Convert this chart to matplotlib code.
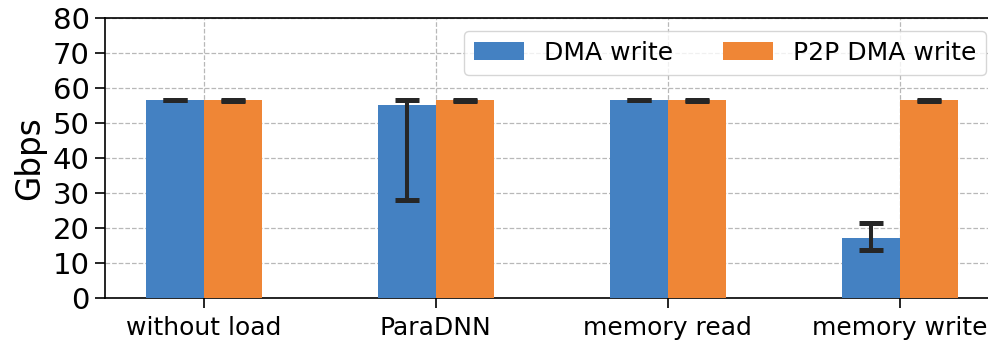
import matplotlib
matplotlib.use("Agg")
import matplotlib.pyplot as plt
import numpy as np

categories = ["without load", "ParaDNN", "memory read", "memory write"]
series_names = ["DMA write", "P2P DMA write"]

dma_write = [56.5, 55.1, 56.5, 17.2]
dma_err_low = [56.5, 28.0, 56.5, 13.7]
dma_err_high = [56.6, 56.6, 56.6, 21.5]

p2p_write = [56.5, 56.5, 56.5, 56.5]
p2p_err_low = [56.4, 56.4, 56.4, 56.4]
p2p_err_high = [56.6, 56.6, 56.6, 56.6]

yticks = [0, 10, 20, 30, 40, 50, 60, 70, 80]

colors = ["#4481c2", "#ef8636"]
err_color = "#262626"

fig = plt.figure(figsize=(9.88, 3.40), dpi=100)
ax = fig.add_axes([0.1063, 0.1235, 0.9044, 0.8235])

x = np.arange(len(categories))
width = 0.25

def yerr_from(vals, lo, hi):
    vals = np.asarray(vals)
    return np.vstack([vals - np.asarray(lo), np.asarray(hi) - vals])

ekw = dict(ecolor=err_color, elinewidth=2.9, capsize=8.6, capthick=3.6)
ax.bar(x - width / 2, dma_write, width, color=colors[0], label=series_names[0],
       yerr=yerr_from(dma_write, dma_err_low, dma_err_high), error_kw=ekw, zorder=3)
ax.bar(x + width / 2, p2p_write, width, color=colors[1], label=series_names[1],
       yerr=yerr_from(p2p_write, p2p_err_low, p2p_err_high), error_kw=ekw, zorder=3)

ax.set_ylim(0, 80)
ax.set_yticks(yticks)
ax.set_xticks(x)
ax.set_xticklabels(categories, fontsize=18)
ax.tick_params(axis="y", labelsize=21, length=7, width=1.2, pad=4)
ax.tick_params(axis="x", length=7, width=1.2, pad=6)
ax.set_ylabel("Gbps", fontsize=23.5, labelpad=5)

ax.grid(True, linestyle="--", color="#b8b8b8", linewidth=0.9, zorder=0)
ax.set_axisbelow(True)
for sp in ax.spines.values():
    sp.set_linewidth(1.2)
    sp.set_color("black")

ax.legend(loc="upper right", ncol=2, fontsize=18, frameon=True,
          fancybox=True, framealpha=0.8, edgecolor="#cccccc",
          handlelength=2.0, columnspacing=2.0)

fig.savefig("out.png", dpi=100)
